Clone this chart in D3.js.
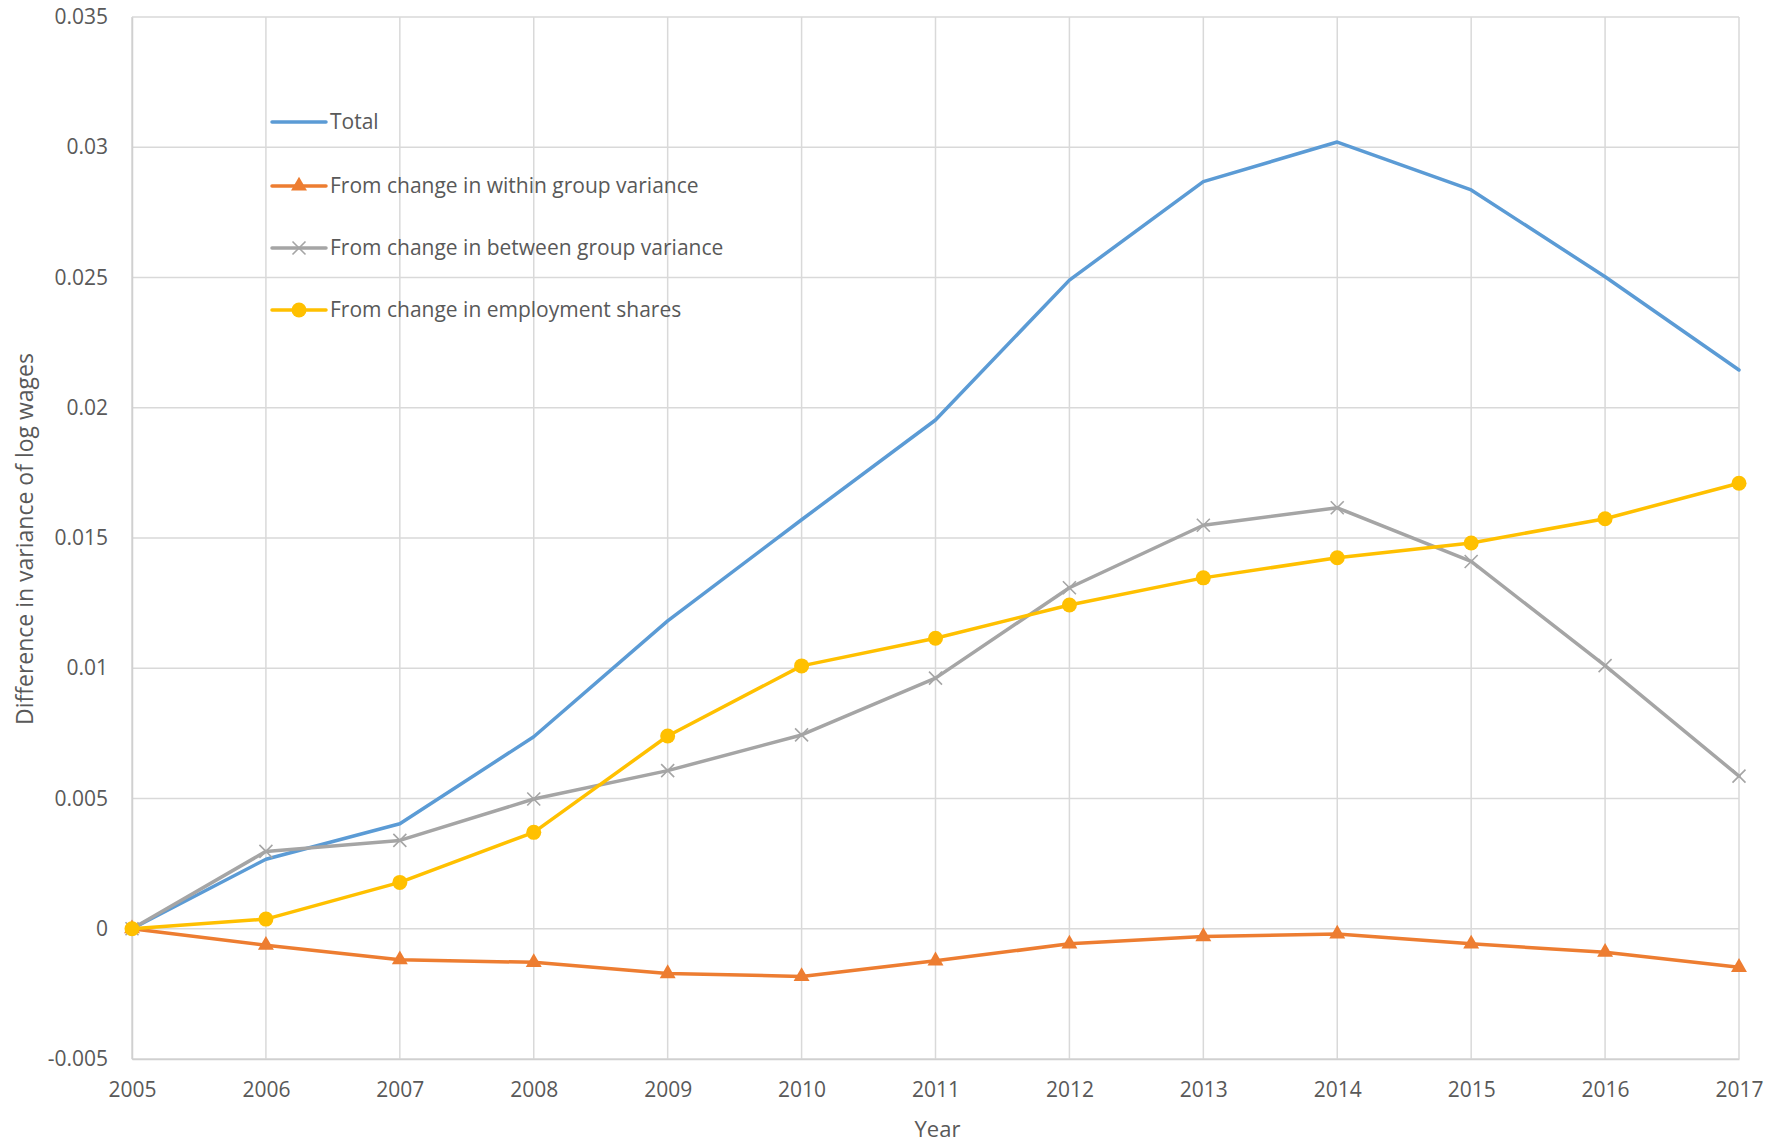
<!DOCTYPE html>
<html>
<head>
<meta charset="utf-8">
<script src="https://cdn.jsdelivr.net/npm/d3@7"></script>
<style>
  html, body { margin: 0; padding: 0; background: #fff; }
  svg { display: block; }
  text { font-family: "Open Sans", "Liberation Sans", sans-serif; fill: #595959; }
</style>
</head>
<body>
<svg id="chart" width="1783" height="1142"></svg>
<script>
// Decomposition of the change in the variance of log wages relative to 2005
const years = [2005, 2006, 2007, 2008, 2009, 2010, 2011, 2012, 2013, 2014, 2015, 2016, 2017];
const total = [0, 0.00267, 0.00403, 0.00737, 0.01182, 0.0157, 0.01953, 0.0249, 0.02868, 0.0302, 0.02836, 0.02503, 0.02145];
const withinGroup = [0, -0.00063, -0.00119, -0.00129, -0.00172, -0.00183, -0.00123, -0.00058, -0.0003, -0.0002, -0.00058, -0.0009, -0.00148];
const betweenGroup = [0, 0.00297, 0.00339, 0.00498, 0.00607, 0.00744, 0.00962, 0.01309, 0.01549, 0.01616, 0.0141, 0.0101, 0.00586];
const employmentShares = [0, 0.00037, 0.00178, 0.0037, 0.0074, 0.01009, 0.01115, 0.01243, 0.01347, 0.01424, 0.01481, 0.01574, 0.0171];

const yTickValues = [-0.005, 0, 0.005, 0.01, 0.015, 0.02, 0.025, 0.03, 0.035];
const yTickLabels = ["-0.005", "0", "0.005", "0.01", "0.015", "0.02", "0.025", "0.03", "0.035"];

const seriesNames = [
  "Total",
  "From change in within group variance",
  "From change in between group variance",
  "From change in employment shares"
];
const seriesValues = [total, withinGroup, betweenGroup, employmentShares];
const seriesColors = ["#5B9BD5", "#ED7D31", "#A5A5A5", "#FFC000"];
const seriesMarkers = ["none", "triangle", "x", "circle"];

const svg = d3.select("#chart");
const W = 1783, H = 1142;
const margin = { top: 17, right: 44, bottom: 83, left: 132 };
const innerW = W - margin.left - margin.right;
const innerH = H - margin.top - margin.bottom;

const x = d3.scaleLinear().domain([2005, 2017]).range([margin.left, margin.left + innerW]);
const y = d3.scaleLinear().domain([-0.005, 0.035]).range([margin.top + innerH, margin.top]);

// gridlines
const grid = svg.append("g");
grid.selectAll("line.h").data(yTickValues).join("line")
  .attr("x1", margin.left).attr("x2", margin.left + innerW)
  .attr("y1", d => y(d)).attr("y2", d => y(d))
  .attr("stroke", "#D9D9D9").attr("stroke-width", 1.5);
grid.selectAll("line.v").data(years).join("line")
  .attr("x1", d => x(d)).attr("x2", d => x(d))
  .attr("y1", margin.top).attr("y2", margin.top + innerH)
  .attr("stroke", "#D9D9D9").attr("stroke-width", 1.5);

// axes
const yAxis = d3.axisLeft(y).tickValues(yTickValues)
  .tickFormat((d, i) => yTickLabels[i]).tickSize(0).tickPadding(24);
const gy = svg.append("g").attr("transform", `translate(${margin.left},0)`).call(yAxis);
gy.select(".domain").attr("stroke", "#D0D0D0").attr("stroke-width", 1.5);
gy.selectAll("text").attr("font-size", 21).attr("fill", "#595959")
  .style("font-family", "'Open Sans', sans-serif");

const xAxis = d3.axisBottom(x).tickValues(years).tickFormat(d3.format("d")).tickSize(0).tickPadding(23);
const gx = svg.append("g").attr("transform", `translate(0,${margin.top + innerH})`).call(xAxis);
gx.select(".domain").attr("stroke", "#D0D0D0").attr("stroke-width", 1.5);
gx.selectAll("text").attr("font-size", 21).attr("fill", "#595959")
  .style("font-family", "'Open Sans', sans-serif");

// axis titles
svg.append("text")
  .attr("transform", `translate(33,539) rotate(-90)`)
  .attr("text-anchor", "middle").attr("font-size", 23)
  .text("Difference in variance of log wages");
svg.append("text")
  .attr("x", margin.left + innerW / 2 + 2).attr("y", 1137)
  .attr("text-anchor", "middle").attr("font-size", 22)
  .text("Year");

// marker drawing
function drawMarker(g, type, color) {
  if (type === "circle") {
    g.append("circle").attr("r", 7.5).attr("fill", color);
  } else if (type === "triangle") {
    g.append("path").attr("d", d3.symbol(d3.symbolTriangle, 110)()).attr("fill", color);
  } else if (type === "x") {
    g.append("path").attr("d", "M-6.5,-6.5L6.5,6.5M-6.5,6.5L6.5,-6.5")
      .attr("stroke", color).attr("stroke-width", 1.6).attr("fill", "none");
  }
}

const line = d3.line().x((d, i) => x(years[i])).y(d => y(d));

// series (drawn so the employment-share line sits on top)
seriesValues.forEach((vals, s) => {
  const g = svg.append("g");
  g.append("path").datum(vals)
    .attr("d", line).attr("fill", "none")
    .attr("stroke", seriesColors[s]).attr("stroke-width", 3.5)
    .attr("stroke-linejoin", "round").attr("stroke-linecap", "round");
  if (seriesMarkers[s] !== "none") {
    vals.forEach((v, i) => {
      const mg = g.append("g").attr("transform", `translate(${x(years[i])},${y(v)})`);
      drawMarker(mg, seriesMarkers[s], seriesColors[s]);
    });
  }
});

// legend
const legendRows = [122, 186, 248, 310];
const legend = svg.append("g");
seriesNames.forEach((name, s) => {
  const gy0 = legendRows[s];
  const lg = legend.append("g").attr("transform", `translate(272,${gy0})`);
  lg.append("line").attr("x1", 0).attr("x2", 54).attr("y1", 0).attr("y2", 0)
    .attr("stroke", seriesColors[s]).attr("stroke-width", 3.5).attr("stroke-linecap", "round");
  const mg = lg.append("g").attr("transform", "translate(27,0)");
  drawMarker(mg, seriesMarkers[s], seriesColors[s]);
  lg.append("text").attr("x", 58).attr("y", 0).attr("dy", "0.35em")
    .attr("font-size", 21).text(name);
});
</script>
</body>
</html>
